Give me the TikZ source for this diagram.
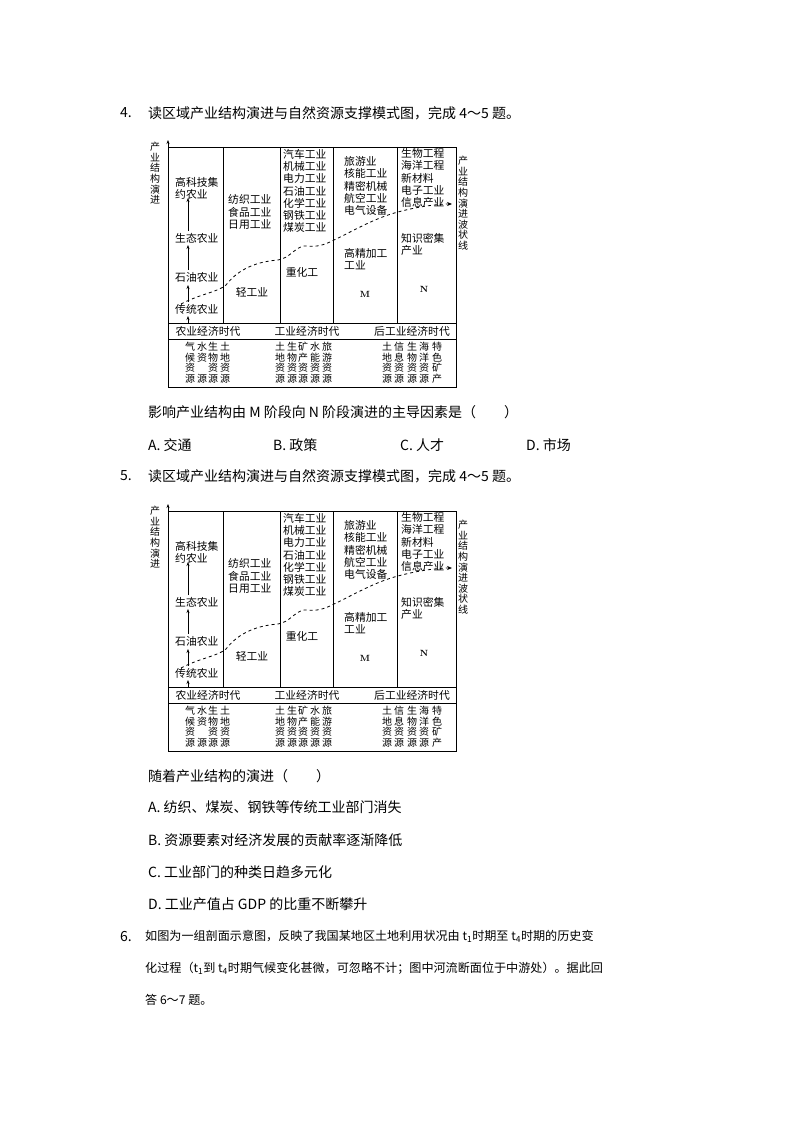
\documentclass[tikz,border=0pt]{standalone}
\usepackage{fontspec}
\newfontfamily\cjk{Noto Sans CJK SC}
\usetikzlibrary{arrows.meta}
\tikzset{
 body/.style={anchor=west,inner sep=0pt,font=\cjk\fontsize{14}{16}\selectfont},
 bodys/.style={anchor=west,inner sep=0pt,font=\cjk\fontsize{12.1}{14}\selectfont},
 dg/.style={inner sep=0pt,font=\cjk\fontsize{10.8}{12.2}\selectfont},
 dgl/.style={dg,anchor=west,align=left},
 vt/.style={inner sep=0pt,anchor=north,align=center,font=\cjk\fontsize{10}{10.6}\selectfont},
 ln/.style={line width=0.8pt},
 arr/.style={-{Stealth[length=4pt,width=3pt]},line width=0.7pt}
}
\newcommand{\mydiagram}[1]{%
\begin{scope}[yshift=#1]
\draw[ln] (168,323) -- (456,323) (168,339) -- (456,339);
\draw[ln] (168,387) -- (456,387) -- (456,147) -- (168,147);
\draw[arr] (168,387) -- (168,140);
\foreach \x in {223,280,333,397} \draw[ln] (\x,147) -- (\x,323);
\node[vt] (ylab) at (155,142) {产\\业\\结\\构\\演\\进};
\node[vt] (wlab) at (463,156) {产\\业\\结\\构\\演\\进\\波\\状\\线};
% column 1
\node[dgl] (a4) at (175,188) {高科技集\\约农业};
\node[dgl] (a3) at (175,238) {生态农业};
\node[dgl] (a2) at (175,277) {石油农业};
\node[dgl] (a1) at (175,309) {传统农业};
\draw[arr] (188,302) -- (188,285);
\draw[arr] (188,270) -- (188,245);
\draw[arr] (188,231) -- (188,198);
\draw[arr] (188,323) -- (188,316);
% column 2
\node[dgl] (b1) at (228,212) {纺织工业\\食品工业\\日用工业};
\node[dg] (b2) at (252,292) {轻工业};
% column 3
\node[dgl,align=left] (c1) at (283,191) {汽车工业\\机械工业\\电力工业\\石油工业\\化学工业\\钢铁工业\\煤炭工业};
\node[dg] (c2) at (302,272) {重化工};
% column 4
\node[dgl] (d1) at (344,186) {旅游业\\核能工业\\精密机械\\航空工业\\电气设备};
\node[dgl] (d2) at (344,259) {高精加工\\工业};
\node[dg,font=\bfseries\fontsize{9}{10}\selectfont] (m) at (365,294) {M};
% column 5
\node[dgl] (e1) at (401,178) {生物工程\\海洋工程\\新材料\\电子工业\\信息产业};
\node[dgl] (e2) at (401,244) {知识密集\\产业};
\node[dg,font=\bfseries\fontsize{9}{10}\selectfont] (n) at (424,289) {N};
% wave
\draw[dashed,line width=0.8pt,-{Stealth[length=5pt,width=4pt]}] (181,304) .. controls (200,294) and (218,292) .. (226,285) .. controls (236,272) and (252,262) .. (278,260) .. controls (290,258) and (294,248) .. (304,246) .. controls (312,246) and (318,248) .. (332,241) .. controls (355,230) and (375,218) .. (398,212) .. controls (420,206) and (440,204) .. (452,204);
% eras
\node[dg] (r1) at (208,331) {农业经济时代};
\node[dg] (r2) at (307,331) {工业经济时代};
\node[dg] (r3) at (412,331) {后工业经济时代};
% resources
\foreach \x/\t in {190/{气\\候\\资\\源},202/{水\\资\\\phantom{资}\\源},213/{生\\物\\资\\源},225/{土\\地\\资\\源},
 280/{土\\地\\资\\源},292/{生\\物\\资\\源},303/{矿\\产\\资\\源},315/{水\\能\\资\\源},327/{旅\\游\\资\\源},
 387/{土\\地\\资\\源},399/{信\\息\\资\\源},412/{生\\物\\资\\源},424/{海\\洋\\资\\源},437/{特\\色\\矿\\产}}
  \node[vt] at (\x,342) {\t};
\end{scope}}
\begin{document}
\begin{tikzpicture}[x=1pt,y=-1pt]
\useasboundingbox[fill=white] (0,0) rectangle (794,1123);
\node[body] (q4n) at (120,113) {4.};
\node[body] (q4) at (148,113) {读区域产业结构演进与自然资源支撑模式图，完成 4～5 题。};
\mydiagram{0}
\node[body] (q4s) at (148,412) {影响产业结构由 M 阶段向 N 阶段演进的主导因素是（\hspace{2em}）};
\node[body] (q4a) at (148,445) {A. 交通};
\node[body] (q4b) at (273,445) {B. 政策};
\node[body] (q4c) at (400,445) {C. 人才};
\node[body] (q4d) at (526,445) {D. 市场};
\node[body] (q5n) at (120,476) {5.};
\node[body] (q5) at (148,476) {读区域产业结构演进与自然资源支撑模式图，完成 4～5 题。};
\mydiagram{-364}
\node[body] (q5s) at (148,776) {随着产业结构的演进（\hspace{2em}）};
\node[body] (q5a) at (148,807) {A. 纺织、煤炭、钢铁等传统工业部门消失};
\node[body] (q5b) at (148,840) {B. 资源要素对经济发展的贡献率逐渐降低};
\node[body] (q5c) at (148,872) {C. 工业部门的种类日趋多元化};
\node[body] (q5d) at (148,904) {D. 工业产值占 GDP 的比重不断攀升};
\node[body] (q6n) at (120,936) {6.};
\node[bodys] (q6a) at (145,936) {如图为一组剖面示意图，反映了我国某地区土地利用状况由 t\textsubscript{1}时期至 t\textsubscript{4}时期的历史变};
\node[bodys] (q6b) at (145,968) {化过程（t\textsubscript{1}到 t\textsubscript{4}时期气候变化甚微，可忽略不计；图中河流断面位于中游处）。据此回};
\node[bodys] (q6c) at (145,1000) {答 6～7 题。};
\end{tikzpicture}
\end{document}
